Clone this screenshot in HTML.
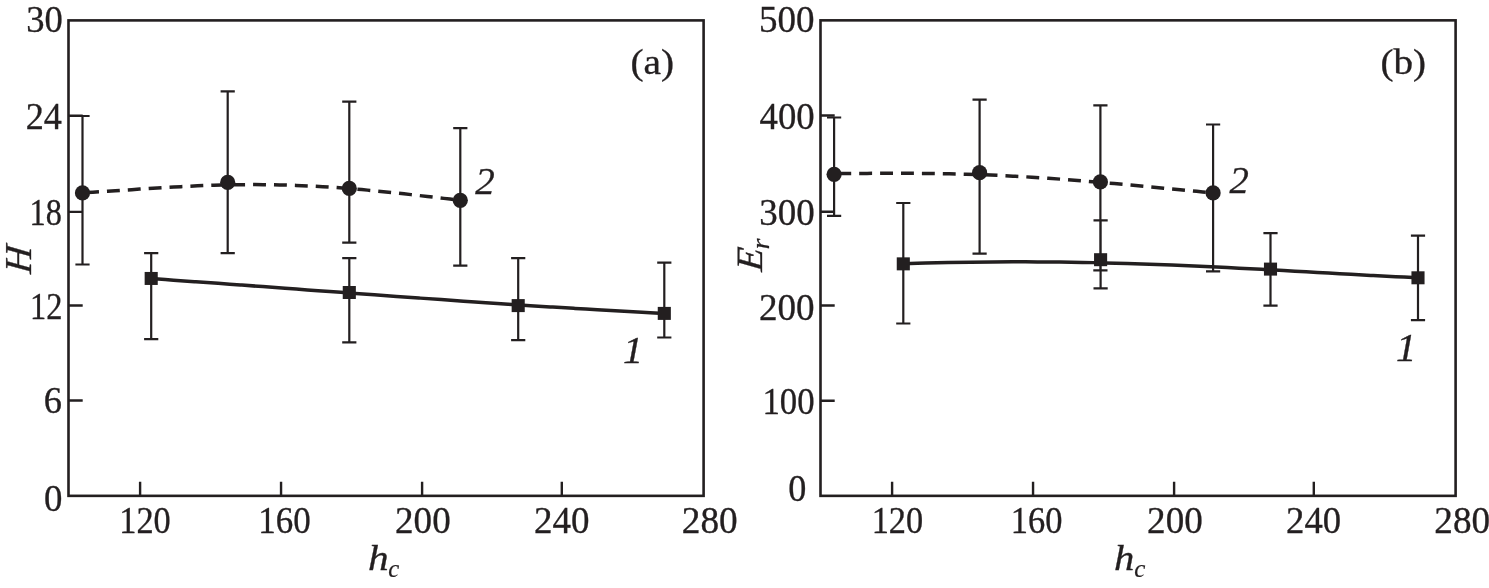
<!DOCTYPE html>
<html><head><meta charset="utf-8"><title>Figure</title>
<style>
html,body{margin:0;padding:0;background:#fff}
svg{display:block}
text{font-family:"Liberation Serif","Times New Roman",Times,serif;font-size:39.5px;fill:#231f20;stroke:#231f20;stroke-width:0.35}
.i{font-style:italic}
.n{letter-spacing:0px}

</style></head>
<body>
<svg width="1489" height="588" viewBox="0 0 1489 588">
<rect width="1489" height="588" fill="#fff"/>
<g fill="none" stroke="#231f20">
<rect x="68.5" y="20.4" width="635.1" height="475.45" stroke-width="2.6"/>
<path d="M140.1 495.85V481.65M281.05 495.85V481.65M422.1 495.85V481.65M561.8 495.85V481.65M68.5 400.56H82.7M68.5 305.57H82.7M68.5 211.88H82.7M68.5 115.69H82.7" stroke-width="2.4"/>
<path d="M82.5 116V264.5M75.4 116h14.2M75.4 264.5h14.2M227.7 91.3V253.1M220.6 91.3h14.2M220.6 253.1h14.2M349.3 101.7V242.7M342.2 101.7h14.2M342.2 242.7h14.2M460.3 128.2V265.7M453.2 128.2h14.2M453.2 265.7h14.2M151.2 253.1V339.2M144.1 253.1h14.2M144.1 339.2h14.2M349.3 258.1V342.3M342.2 258.1h14.2M342.2 342.3h14.2M518.2 258.1V340.2M511.1 258.1h14.2M511.1 340.2h14.2M664.3 262.7V337.5M657.2 262.7h14.2M657.2 337.5h14.2" stroke-width="2.2"/>
<path d="M82.5 192.77 C85.24 192.61 93.45 192.13 98.93 191.79 C104.4 191.45 109.88 191.09 115.35 190.73 C120.83 190.37 126.3 189.99 131.78 189.63 C137.25 189.27 142.73 188.9 148.2 188.55 C153.68 188.2 159.16 187.86 164.63 187.54 C170.11 187.22 175.58 186.91 181.06 186.63 C186.53 186.35 192.01 186.08 197.48 185.85 C202.96 185.62 208.43 185.42 213.91 185.24 C219.38 185.07 224.86 184.93 230.33 184.83 C235.81 184.73 241.29 184.65 246.76 184.62 C252.24 184.59 257.71 184.6 263.19 184.64 C268.66 184.69 274.14 184.77 279.61 184.9 C285.09 185.02 290.56 185.18 296.04 185.39 C301.51 185.59 306.99 185.83 312.47 186.11 C317.94 186.39 323.42 186.71 328.89 187.07 C334.37 187.42 339.84 187.81 345.32 188.24 C350.79 188.66 356.27 189.12 361.74 189.61 C367.22 190.09 372.69 190.61 378.17 191.15 C383.64 191.69 389.12 192.25 394.6 192.83 C400.07 193.41 405.55 194.02 411.02 194.63 C416.5 195.24 421.97 195.87 427.45 196.49 C432.92 197.12 438.4 197.76 443.87 198.38 C449.35 199 457.56 199.93 460.3 200.23" stroke-width="3.5" stroke-dasharray="12.9 8" stroke-dashoffset="17.3"/>
<path d="M151.2 278.58 C154.92 278.85 166.07 279.63 173.51 280.16 C180.94 280.68 188.38 281.22 195.82 281.75 C203.25 282.28 210.69 282.82 218.13 283.36 C225.56 283.9 233 284.44 240.43 284.99 C247.87 285.53 255.31 286.08 262.74 286.62 C270.18 287.17 277.62 287.72 285.05 288.26 C292.49 288.81 299.92 289.36 307.36 289.91 C314.8 290.45 322.23 291 329.67 291.55 C337.11 292.1 344.54 292.64 351.98 293.19 C359.41 293.73 366.85 294.27 374.29 294.81 C381.72 295.35 389.16 295.89 396.6 296.43 C404.03 296.96 411.47 297.5 418.9 298.03 C426.34 298.55 433.78 299.08 441.21 299.6 C448.65 300.13 456.09 300.64 463.52 301.16 C470.96 301.67 478.39 302.18 485.83 302.68 C493.27 303.19 500.7 303.68 508.14 304.18 C515.58 304.67 523.01 305.15 530.45 305.63 C537.88 306.11 545.32 306.59 552.76 307.05 C560.19 307.52 567.63 307.98 575.07 308.43 C582.5 308.88 589.94 309.32 597.37 309.76 C604.81 310.19 612.25 310.62 619.68 311.03 C627.12 311.45 634.56 311.86 641.99 312.26 C649.43 312.66 660.58 313.23 664.3 313.42" stroke-width="3.5"/>
</g>
<g fill="#231f20">
<circle cx="82.5" cy="192.9" r="7.6"/>
<circle cx="227.7" cy="182.4" r="7.6"/>
<circle cx="349.3" cy="188.4" r="7.6"/>
<circle cx="460.3" cy="200.3" r="7.6"/>
<rect x="144.65" y="271.95" width="13.1" height="13"/>
<rect x="342.75" y="286" width="13.1" height="13"/>
<rect x="511.65" y="299.1" width="13.1" height="13"/>
<rect x="657.75" y="306.9" width="13.1" height="13"/>
</g>
<g fill="none" stroke="#231f20">
<rect x="820.5" y="20.35" width="635.1" height="475.5" stroke-width="2.6"/>
<path d="M892.1 495.85V481.65M1033.05 495.85V481.65M1174.1 495.85V481.65M1313.8 495.85V481.65M820.5 400.75H834.7M820.5 305.55H834.7M820.5 211.75H834.7M820.5 115.45H834.7" stroke-width="2.4"/>
<path d="M834.1 117.5V215.9M827 117.5h14.2M827 215.9h14.2M979.6 99.7V253.6M972.5 99.7h14.2M972.5 253.6h14.2M1100.4 105.4V270.4M1093.3 105.4h14.2M1093.3 270.4h14.2M1213.1 124.5V271.3M1206 124.5h14.2M1206 271.3h14.2M903.3 203V323.5M896.2 203h14.2M896.2 323.5h14.2M1100.6 220.3V288.4M1093.5 220.3h14.2M1093.5 288.4h14.2M1270.5 233.1V305.6M1263.4 233.1h14.2M1263.4 305.6h14.2M1418 235.7V320.2M1410.9 235.7h14.2M1410.9 320.2h14.2" stroke-width="2.2"/>
<path d="M834.1 173.36 C836.85 173.37 845.09 173.41 850.58 173.41 C856.07 173.41 861.56 173.4 867.06 173.38 C872.55 173.37 878.04 173.35 883.53 173.34 C889.03 173.33 894.52 173.32 900.01 173.33 C905.51 173.34 911 173.35 916.49 173.39 C921.98 173.42 927.48 173.47 932.97 173.54 C938.46 173.61 943.96 173.7 949.45 173.81 C954.94 173.92 960.43 174.05 965.93 174.21 C971.42 174.37 976.91 174.55 982.4 174.75 C987.9 174.96 993.39 175.18 998.88 175.43 C1004.38 175.69 1009.87 175.96 1015.36 176.26 C1020.85 176.55 1026.35 176.87 1031.84 177.21 C1037.33 177.55 1042.82 177.91 1048.32 178.29 C1053.81 178.67 1059.3 179.07 1064.8 179.48 C1070.29 179.9 1075.78 180.33 1081.27 180.77 C1086.77 181.21 1092.26 181.67 1097.75 182.14 C1103.24 182.61 1108.74 183.09 1114.23 183.58 C1119.72 184.07 1125.22 184.56 1130.71 185.07 C1136.2 185.57 1141.69 186.08 1147.19 186.6 C1152.68 187.11 1158.17 187.63 1163.67 188.15 C1169.16 188.67 1174.65 189.2 1180.14 189.72 C1185.64 190.25 1191.13 190.78 1196.62 191.31 C1202.11 191.84 1210.35 192.64 1213.1 192.91" stroke-width="3.5" stroke-dasharray="12.9 8" stroke-dashoffset="16.7"/>
<path d="M903.3 263.67 C907.03 263.56 918.22 263.23 925.68 263.05 C933.14 262.86 940.6 262.69 948.06 262.55 C955.52 262.4 962.98 262.28 970.43 262.18 C977.89 262.08 985.35 262 992.81 261.95 C1000.27 261.89 1007.73 261.86 1015.19 261.85 C1022.65 261.85 1030.11 261.86 1037.57 261.9 C1045.03 261.94 1052.49 262 1059.95 262.09 C1067.41 262.18 1074.87 262.29 1082.33 262.42 C1089.79 262.55 1097.24 262.71 1104.7 262.89 C1112.16 263.07 1119.62 263.27 1127.08 263.49 C1134.54 263.71 1142 263.95 1149.46 264.21 C1156.92 264.47 1164.38 264.76 1171.84 265.05 C1179.3 265.35 1186.76 265.67 1194.22 266 C1201.68 266.33 1209.14 266.68 1216.6 267.04 C1224.06 267.4 1231.51 267.78 1238.97 268.16 C1246.43 268.54 1253.89 268.94 1261.35 269.34 C1268.81 269.75 1276.27 270.16 1283.73 270.57 C1291.19 270.99 1298.65 271.41 1306.11 271.83 C1313.57 272.25 1321.03 272.68 1328.49 273.1 C1335.95 273.51 1343.41 273.93 1350.87 274.34 C1358.32 274.75 1365.78 275.16 1373.24 275.55 C1380.7 275.94 1388.16 276.32 1395.62 276.68 C1403.08 277.05 1414.27 277.55 1418 277.73" stroke-width="3.5"/>
</g>
<g fill="#231f20">
<circle cx="834.1" cy="174.3" r="7.6"/>
<circle cx="979.6" cy="172.7" r="7.6"/>
<circle cx="1100.4" cy="181.9" r="7.6"/>
<circle cx="1213.1" cy="192.9" r="7.6"/>
<rect x="896.75" y="257.35" width="13.1" height="13"/>
<rect x="1094.05" y="253.2" width="13.1" height="13"/>
<rect x="1263.95" y="262.6" width="13.1" height="13"/>
<rect x="1411.45" y="271.3" width="13.1" height="13"/>
</g>
<g>
<text transform="matrix(0.9260 0 0 0.9468 26.28 31.99)" class="n">30</text>
<text transform="matrix(0.9173 0 0 0.9698 25.72 128.66)" class="n">24</text>
<text transform="matrix(0.8171 0 0 0.9593 29.54 224.92)" class="n">18</text>
<text transform="matrix(0.8204 0 0 0.9660 30.03 319.36)" class="n">12</text>
<text transform="matrix(0.9217 0 0 0.9645 43.82 412.92)" class="n">6</text>
<text transform="matrix(0.9333 0 0 0.9704 44.03 510.51)" class="n">0</text>
<text transform="matrix(0.8694 0 0 0.9852 119.27 533.21)" class="n">120</text>
<text transform="matrix(0.8858 0 0 0.9852 258.32 533.21)" class="n">160</text>
<text transform="matrix(0.9381 0 0 0.9852 395.09 533.21)" class="n">200</text>
<text transform="matrix(0.9363 0 0 0.9852 534 533.21)" class="n">240</text>
<text transform="matrix(0.9434 0 0 0.9852 681.78 533.21)" class="n">280</text>
<text transform="matrix(0.9375 0 0 0.9505 759.02 31.99)" class="n">500</text>
<text transform="matrix(0.9304 0 0 0.9556 759.53 129.42)" class="n">400</text>
<text transform="matrix(0.9369 0 0 0.9578 759.16 225.18)" class="n">300</text>
<text transform="matrix(0.9398 0 0 0.9630 758.99 319.52)" class="n">200</text>
<text transform="matrix(0.8804 0 0 0.9741 762.44 413.81)" class="n">100</text>
<text transform="matrix(0.9159 0 0 0.9778 788.16 501.11)" class="n">0</text>
<text transform="matrix(0.8694 0 0 0.9852 871.67 533.21)" class="n">120</text>
<text transform="matrix(0.8731 0 0 0.9852 1010.86 533.21)" class="n">160</text>
<text transform="matrix(0.9398 0 0 0.9852 1147.09 533.21)" class="n">200</text>
<text transform="matrix(0.9274 0 0 0.9852 1286.11 533.21)" class="n">240</text>
<text transform="matrix(0.9416 0 0 0.9852 1434.29 533.21)" class="n">280</text>
<text transform="matrix(0.9963 0 0 0.8986 630.51 73.64)">(a)</text>
<text transform="matrix(0.9884 0 0 0.8986 1380.52 73.64)">(b)</text>
<text transform="matrix(0.9870 0 0 0.9660 475.25 193.96)" class="i">2</text>
<text transform="matrix(0.9766 0 0 0.9585 1229.44 193.16)" class="i">2</text>
<text transform="matrix(1.0138 0 0 0.9623 623.03 363.36)" class="i">1</text>
<text transform="matrix(1.0276 0 0 0.9925 1396.02 360.95)" class="i">1</text>
<text transform="matrix(1.0471 0 0 0.9214 367.89 570.17)" class="i">h</text>
<text transform="matrix(0.6277 0 0 0.6597 388.27 576.77)" class="i">c</text>
<text transform="matrix(1.0294 0 0 0.9214 1114.11 570.17)" class="i">h</text>
<text transform="matrix(0.6338 0 0 0.6597 1134.37 576.77)" class="i">c</text>
<text transform="matrix(0 -0.9559 0.9623 0 31.36 274.18) skewX(-6)" class="i">H</text>
<text transform="matrix(0 -0.9615 0.9396 0 761.67 272.08) skewX(-6)" class="i">E</text>
<text transform="matrix(0 -0.7172 0.6316 0 768.94 249.6)" class="i">r</text>
</g>
</svg>
</body></html>
